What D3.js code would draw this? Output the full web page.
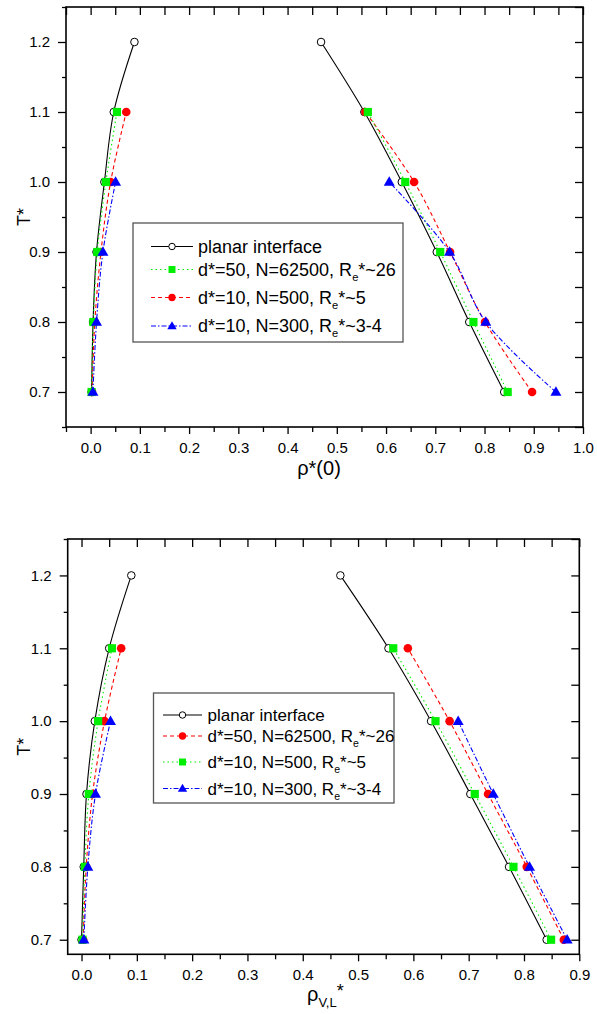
<!DOCTYPE html>
<html><head><meta charset="utf-8">
<script src="https://cdn.jsdelivr.net/npm/d3@7"></script>
<style>body{margin:0;background:#fff}svg{display:block}text{font-family:Arial,"Liberation Sans",sans-serif}</style>
</head><body>
<svg id="c" width="597" height="1014"></svg>
<script>
// ---------- data ----------
const temps = [0.7, 0.8, 0.9, 1.0, 1.1, 1.2];
// top chart: rho*(0)
const topPlanarVap = [0.002, 0.005, 0.012, 0.028, 0.047, 0.089];
const topPlanarLiq = [0.840, 0.769, 0.703, 0.632, 0.556, 0.468];
const topRedVap    = [0.003, 0.0085, 0.021, 0.0406, 0.0724];
const topRedLiq    = [0.8966, 0.801, 0.730, 0.657, 0.558];
const topGreenVap  = [0.002, 0.0055, 0.0136, 0.031, 0.0535];
const topGreenLiq  = [0.847, 0.7775, 0.710, 0.639, 0.563];
const topBlueVap   = [0.0047, 0.012, 0.025, 0.0507];
const topBlueLiq   = [0.945, 0.8026, 0.729, 0.6065];
// bottom chart: rho_V,L*
const botPlanarVap = [0.000, 0.004, 0.009, 0.024, 0.050, 0.090];
const botPlanarLiq = [0.841, 0.773, 0.703, 0.632, 0.555, 0.468];
const botRedVap    = [0.003, 0.0085, 0.020, 0.0416, 0.0717];
const botRedLiq    = [0.872, 0.805, 0.735, 0.6655, 0.590];
const botGreenVap  = [0.0018, 0.006, 0.0133, 0.030, 0.055];
const botGreenLiq  = [0.849, 0.781, 0.711, 0.640, 0.5636];
const botBlueVap   = [0.0042, 0.0114, 0.0253, 0.0524];
const botBlueLiq   = [0.878, 0.810, 0.7445, 0.681];

const topXTicks = [0.0, 0.1, 0.2, 0.3, 0.4, 0.5, 0.6, 0.7, 0.8, 0.9, 1.0];
const botXTicks = [0.0, 0.1, 0.2, 0.3, 0.4, 0.5, 0.6, 0.7, 0.8, 0.9];
const yTicks = [0.7, 0.8, 0.9, 1.0, 1.1, 1.2];

const topLegend = [
  ["planar interface"],
  ["d*=50, N=62500, R", "e", "*~26"],
  ["d*=10, N=500, R", "e", "*~5"],
  ["d*=10, N=300, R", "e", "*~3-4"]
];
const botLegend = [
  ["planar interface"],
  ["d*=50, N=62500, R", "e", "*~26"],
  ["d*=10, N=500, R", "e", "*~5"],
  ["d*=10, N=300, R", "e", "*~3-4"]
];

// ---------- styles ----------
const styles = {
  planar: {color: "#000", dash: null, marker: "open"},
  red:    {color: "#ff0000", dash: "4,3", marker: "circle"},
  green:  {color: "#00ee00", dash: "1.5,3", marker: "square"},
  blue:   {color: "#0000ff", dash: "5,2,1.5,2", marker: "triangle"}
};

const svg = d3.select("#c");
svg.append("rect").attr("width",597).attr("height",1014).attr("fill","#fff");

function drawMarker(g, type, cx, cy, color, s) {
  s = s || 1;
  if (type === "open") {
    g.append("circle").attr("cx",cx).attr("cy",cy).attr("r",3.8*s)
      .attr("fill","#fff").attr("stroke","#000").attr("stroke-width",1);
  } else if (type === "circle") {
    g.append("circle").attr("cx",cx).attr("cy",cy).attr("r",4.3*s).attr("fill",color);
  } else if (type === "square") {
    const a = 8.2*s;
    g.append("rect").attr("x",cx-a/2).attr("y",cy-a/2).attr("width",a).attr("height",a).attr("fill",color);
  } else if (type === "triangle") {
    const h = 9.5*s, w = 11*s;
    g.append("path").attr("d",`M${cx},${cy-h*0.6}L${cx+w/2},${cy+h*0.4}L${cx-w/2},${cy+h*0.4}Z`).attr("fill",color);
  }
}

function chart(cfg) {
  const x = d3.scaleLinear().domain(cfg.xDomain).range([cfg.left, cfg.right]);
  const y = d3.scaleLinear().domain(cfg.yDomain).range([cfg.bottom, cfg.top]);
  const g = svg.append("g");
  const fmt = d3.format(".1f");
  const xMinor = cfg.xTicks.slice(0,-1).map(v => +(v+0.05).toFixed(2)).concat(cfg.xTicks[0]-0.05 >= cfg.xDomain[0]-1e-9 ? [+(cfg.xTicks[0]-0.05).toFixed(2)] : []);
  const yMinor = cfg.yTicks.map(v => +(v+0.05).toFixed(2)).concat([+(cfg.yTicks[0]-0.05).toFixed(2)]).filter(v => v >= cfg.yDomain[0] && v <= cfg.yDomain[1]);
  const xAll = cfg.xTicks.concat(xMinor);
  const yAll = cfg.yTicks.concat(yMinor);

  g.append("g").attr("transform",`translate(0,${cfg.bottom})`)
    .call(d3.axisBottom(x).tickValues(cfg.xTicks).tickSize(7).tickPadding(8).tickFormat(fmt));
  g.append("g").attr("transform",`translate(0,${cfg.bottom})`)
    .call(d3.axisBottom(x).tickValues(xMinor).tickSize(5).tickFormat(""));
  g.append("g").attr("transform",`translate(0,${cfg.top})`)
    .call(d3.axisTop(x).tickValues(xAll).tickSize(-8).tickFormat(""));
  g.append("g").attr("transform",`translate(${cfg.left},0)`)
    .call(d3.axisLeft(y).tickValues(cfg.yTicks).tickSize(8).tickPadding(8).tickFormat(fmt));
  g.append("g").attr("transform",`translate(${cfg.left},0)`)
    .call(d3.axisLeft(y).tickValues(yMinor).tickSize(4).tickFormat(""));
  g.append("g").attr("transform",`translate(${cfg.right},0)`)
    .call(d3.axisRight(y).tickValues(yAll).tickSize(-8).tickFormat(""));
  g.selectAll(".domain").remove();
  g.selectAll(".tick line").attr("stroke","#000").attr("stroke-width",1.3);
  g.selectAll(".tick text").attr("font-size",15).attr("fill","#000").attr("font-family","Arial, 'Liberation Sans', sans-serif");

  g.append("rect").attr("x",cfg.left).attr("y",cfg.top)
    .attr("width",cfg.right-cfg.left).attr("height",cfg.bottom-cfg.top)
    .attr("fill","none").attr("stroke","#000").attr("stroke-width",1.6);

  const line = d3.line().x(d => x(d[0])).y(d => y(d[1])).curve(d3.curveCatmullRom.alpha(0.5));
  const plot = g.append("g");
  cfg.series.forEach(s => {
    const st = styles[s.style];
    [s.vap, s.liq].forEach(arr => {
      const pts = arr.map((v,i) => [v, temps[i]]);
      plot.append("path").attr("d", line(pts)).attr("fill","none")
        .attr("stroke", st.color).attr("stroke-width", 1.1)
        .attr("stroke-dasharray", st.dash);
    });
  });
  cfg.series.forEach(s => {
    const st = styles[s.style];
    [s.vap, s.liq].forEach(arr => {
      arr.forEach((v,i) => drawMarker(plot, st.marker, x(v), y(temps[i]), st.color));
    });
  });

  g.append("text").attr("transform",`translate(${cfg.yTitleX},${(cfg.top+cfg.bottom)/2}) rotate(-90)`)
    .attr("text-anchor","middle").attr("font-size",18).text("T*");

  const L = cfg.legend;
  g.append("rect").attr("x",L.x).attr("y",L.y).attr("width",L.w).attr("height",L.h)
    .attr("fill","#fff").attr("stroke","#555").attr("stroke-width",1.3);
  L.order.forEach((key, i) => {
    const st = styles[key];
    const cy = L.rows[i];
    g.append("line").attr("x1",L.lx1).attr("x2",L.lx2).attr("y1",cy).attr("y2",cy)
      .attr("stroke",st.color).attr("stroke-width",1.1).attr("stroke-dasharray",st.dash);
    drawMarker(g, st.marker, (L.lx1+L.lx2)/2, cy, st.color, 0.85);
    const parts = L.labels[i];
    const t = g.append("text").attr("x",L.tx).attr("y",cy+6).attr("font-size",L.fs).attr("fill","#000");
    t.append("tspan").text(parts[0]);
    if (parts.length > 1) {
      t.append("tspan").attr("dy",5).attr("font-size",L.fs*0.62).text(parts[1]);
      t.append("tspan").attr("dy",-5).text(parts[2]);
    }
  });
  return {x, y, g};
}

const topChart = chart({
  left: 66, right: 583, top: 7, bottom: 427,
  xDomain: [-0.05, 1.0], yDomain: [0.65, 1.25],
  xTicks: topXTicks, yTicks: yTicks, yTitleX: 30,
  series: [
    {style:"planar", vap: topPlanarVap, liq: topPlanarLiq},
    {style:"red", vap: topRedVap, liq: topRedLiq},
    {style:"green", vap: topGreenVap, liq: topGreenLiq},
    {style:"blue", vap: topBlueVap, liq: topBlueLiq}
  ],
  legend: {x:133, y:223, w:270, h:119, rows:[246.5, 269.5, 297.5, 326], lx1:151, lx2:193, tx:198, fs:18,
           order:["planar","green","red","blue"], labels: topLegend}
});
topChart.g.append("text").attr("x",319).attr("y",475).attr("text-anchor","middle").attr("font-size",20).text("ρ*(0)");

const botChart = chart({
  left: 67.7, right: 579.3, top: 539, bottom: 954.3,
  xDomain: [-0.025, 0.9], yDomain: [0.68, 1.25],
  xTicks: botXTicks, yTicks: yTicks, yTitleX: 30,
  series: [
    {style:"planar", vap: botPlanarVap, liq: botPlanarLiq},
    {style:"red", vap: botRedVap, liq: botRedLiq},
    {style:"green", vap: botGreenVap, liq: botGreenLiq},
    {style:"blue", vap: botBlueVap, liq: botBlueLiq}
  ],
  legend: {x:153.5, y:693, w:240.5, h:110, rows:[715, 736, 762, 788.5], lx1:163, lx2:202, tx:207.5, fs:17,
           order:["planar","red","green","blue"], labels: botLegend}
});
const xl = botChart.g.append("text").attr("x",307).attr("y",1001).attr("font-size",20);
xl.append("tspan").text("ρ");
xl.append("tspan").attr("dy",6).attr("font-size",13).text("V,L");
xl.append("tspan").attr("dy",-10).attr("font-size",18).text("*");
</script>
</body></html>
